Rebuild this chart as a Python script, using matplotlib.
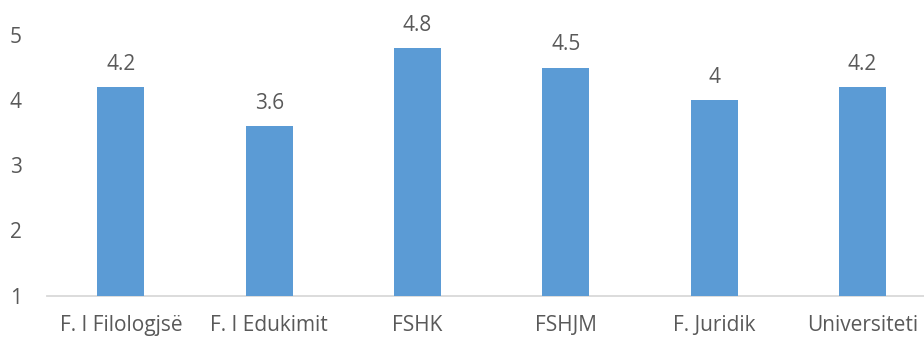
import matplotlib
matplotlib.use('Agg')
import matplotlib.pyplot as plt

categories = ['F. I Filologjsë', 'F. I Edukimit', 'FSHK', 'FSHJM', 'F. Juridik', 'Universiteti']
values = [4.2, 3.6, 4.8, 4.5, 4, 4.2]
value_labels = ['4.2', '3.6', '4.8', '4.5', '4', '4.2']
y_ticks = [1, 2, 3, 4, 5]

plt.rcParams['font.family'] = ['Open Sans', 'DejaVu Sans']
text_color = '#595959'

fig = plt.figure(figsize=(9.24, 3.37), dpi=100)
ax = fig.add_axes([0.0506, 0.123, 0.963, 0.773])

x = list(range(len(categories)))
bars = ax.bar(x, [v - 1 for v in values], bottom=1, width=0.317, color='#5B9BD5')

for xi, v, lab in zip(x, values, value_labels):
    ax.annotate(lab, (xi, v), xytext=(0, 9), textcoords='offset points',
                ha='center', va='bottom', fontsize=15, color=text_color)

ax.set_xlim(-0.5, len(categories) - 0.5)
ax.set_ylim(1, 5)
ax.set_yticks(y_ticks)
ax.set_xticks(x)
ax.set_xticklabels(categories)
ax.tick_params(axis='both', length=0, labelsize=15, labelcolor=text_color)
ax.tick_params(axis='y', pad=18)
ax.tick_params(axis='x', pad=14)

for s in ['top', 'right', 'left']:
    ax.spines[s].set_visible(False)
ax.spines['bottom'].set_color('#D9D9D9')
ax.spines['bottom'].set_linewidth(1.3)
ax.spines['bottom'].set_zorder(0)

fig.savefig('out.png', dpi=100)
